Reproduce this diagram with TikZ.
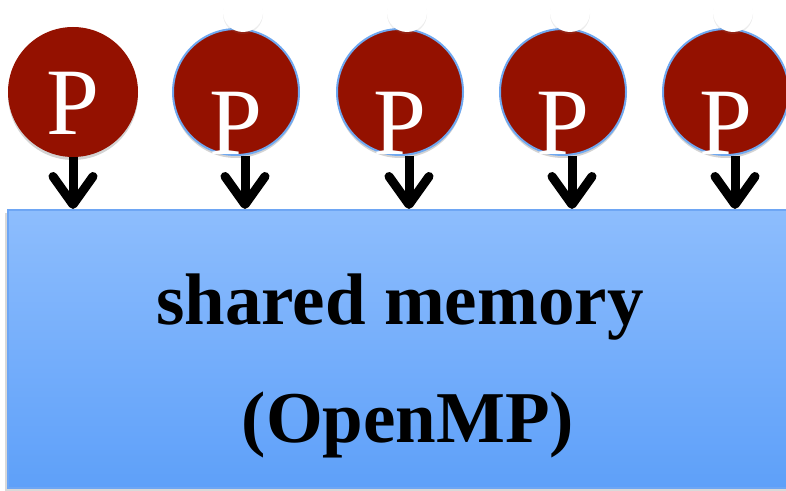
\documentclass[tikz,border=0pt]{standalone}
\usepackage{fontspec}
\setmainfont{Liberation Serif}
\usetikzlibrary{calc, shapes, arrows.meta, shadows}
\definecolor{procred}{RGB}{148,17,0}
\definecolor{procrim}{RGB}{111,168,240}
\definecolor{memtop}{RGB}{141,189,253}
\definecolor{membot}{RGB}{94,160,249}
\definecolor{memrim}{RGB}{110,166,244}

\begin{document}
\begin{tikzpicture}[x=0.5pt,y=-0.5pt,
		proc/.style={circle, fill=procred, minimum size=65pt, inner sep=0pt,
			drop shadow={opacity=0.35, shadow xshift=0pt, shadow yshift=-1.5pt}},
		rimproc/.style={proc, draw=procrim, line width=1pt, minimum size=63pt},
		knob/.style={circle, fill=white, minimum size=20pt, inner sep=0pt,
			drop shadow={opacity=0.15, shadow xshift=0pt, shadow yshift=-1pt}},
		flow/.style={line width=4.5pt, -{Straight Barb[round, length=14pt, width=20pt]}},
		memblock/.style={rectangle, draw=memrim, line width=1pt, top color=memtop, bottom color=membot,
			minimum width=396pt, minimum height=139pt, inner sep=0pt,
			drop shadow={opacity=0.3, shadow xshift=-1.5pt, shadow yshift=-1.5pt}}
	]
	\newcommand{\myfontproc}[1]{
		\fontsize{47.6}{50}\selectfont{#1}
	}\newcommand{\myfontmem}[1]{
		\fontsize{36.5}{40}\selectfont\bfseries{#1}
	}%Frame of the picture
	\useasboundingbox (0,0) rectangle (786,491);
	\clip (0,0) rectangle (786,491);
	%The shared memory block
	\node [memblock] (mem) at (404,349) {};
	\node [anchor=base] (memtext) at (400,325) {\myfontmem{shared memory}};
	\node [anchor=base] (omptext) at (408,442) {\myfontmem{(OpenMP)}};
	%First processor, without rim
	\node [proc] (p1) at (73,92) {};
	\node [anchor=base, text=white] (l1) at (73,135) {\myfontproc{P}};
	\coordinate (s1) at (p1.south);
	%Other processors, with rim and knob
	\foreach \i/\x in {2/236, 3/400, 4/563, 5/726} {
		\node [rimproc] (p\i) at (\x,92) {};
		\node [anchor=base, text=white] (l\i) at (\x,155) {\myfontproc{P}};
		\node [knob] (k\i) at ($(p\i.center)+(7,-80)$) {};
		\coordinate (s\i) at ($(p\i.south)+(9,0)$);
	}
	%Arrows down to the memory
	\foreach \i in {1,...,5} {
		\draw [flow] (s\i) -- (s\i |- mem.north);
	}
\end{tikzpicture}
\end{document}
